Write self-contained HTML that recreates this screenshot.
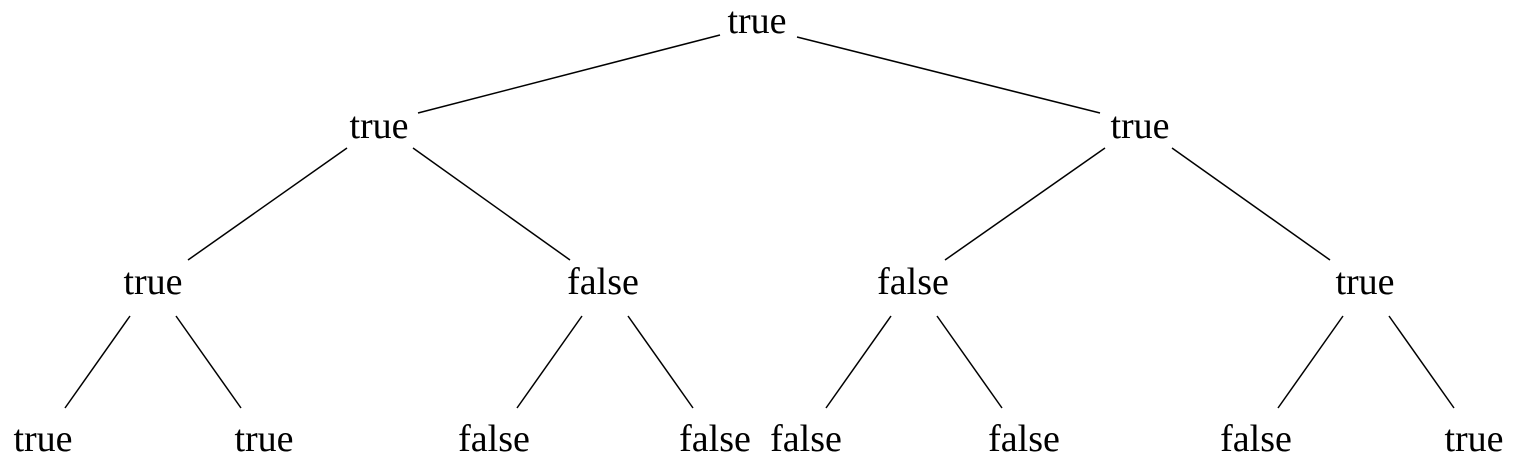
<!DOCTYPE html>
<html><head><meta charset="utf-8"><style>html,body{margin:0;padding:0;background:#fff}svg{display:block}</style></head>
<body>
<svg width="1517" height="466" viewBox="0 0 1517 466" xmlns="http://www.w3.org/2000/svg">
<g stroke="#000" stroke-width="1.5" fill="none">
<line x1="720" y1="35" x2="418" y2="113"/>
<line x1="797" y1="37" x2="1100" y2="113"/>
<line x1="347" y1="148" x2="188" y2="260"/>
<line x1="413" y1="148" x2="570" y2="260"/>
<line x1="1105" y1="148" x2="945" y2="260"/>
<line x1="1172" y1="148" x2="1330" y2="260"/>
<line x1="130" y1="316" x2="65" y2="408"/>
<line x1="176" y1="316" x2="241" y2="408"/>
<line x1="582" y1="316" x2="517" y2="408"/>
<line x1="628" y1="316" x2="693" y2="408"/>
<line x1="891" y1="316" x2="826" y2="408"/>
<line x1="937" y1="316" x2="1002" y2="408"/>
<line x1="1343" y1="316" x2="1278" y2="408"/>
<line x1="1389" y1="316" x2="1454" y2="408"/>
</g>
<g font-family="Liberation Serif, serif" font-size="38" text-anchor="middle" fill="#000">
<text x="757" y="33">true</text>
<text x="379" y="138">true</text>
<text x="1140" y="138">true</text>
<text x="153" y="294">true</text>
<text x="603" y="294">false</text>
<text x="913" y="294">false</text>
<text x="1365" y="294">true</text>
<text x="43" y="451">true</text>
<text x="264" y="451">true</text>
<text x="494" y="451">false</text>
<text x="715" y="451">false</text>
<text x="806" y="451">false</text>
<text x="1024" y="451">false</text>
<text x="1256" y="451">false</text>
<text x="1474" y="451">true</text>
</g>
</svg>
</body></html>
